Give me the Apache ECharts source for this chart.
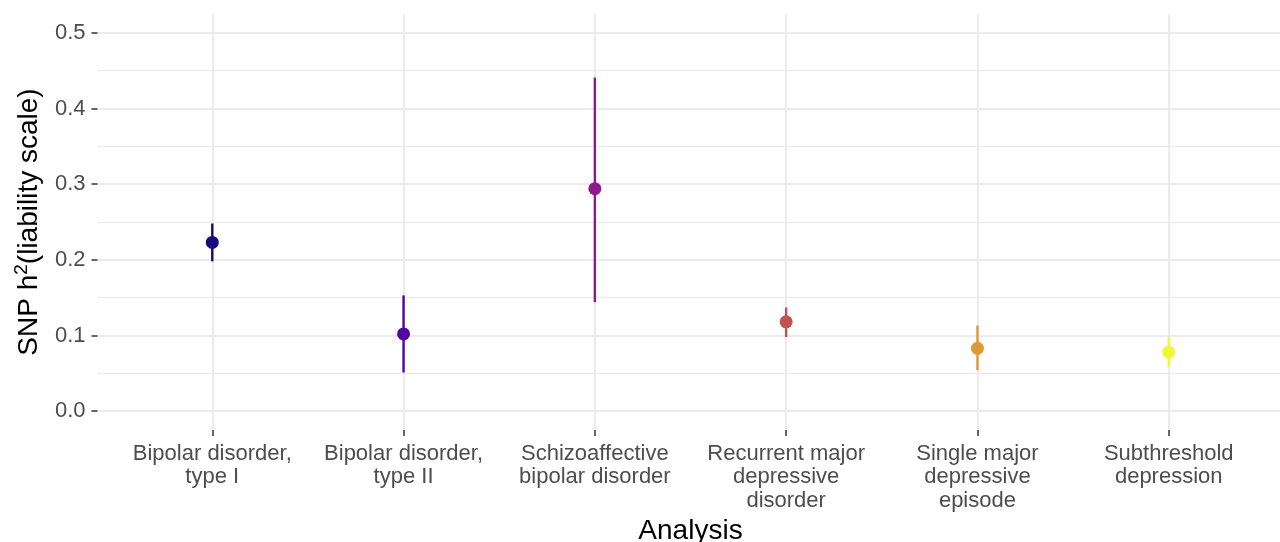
<!DOCTYPE html>
<html><head><meta charset="utf-8">
<script src="https://cdn.jsdelivr.net/npm/echarts@6/dist/echarts.min.js"></script>
<style>html,body{margin:0;padding:0;background:#fff}#c{width:1280px;height:542px}</style>
</head><body><div id="c"></div>
<script>
const categories = [
  "Bipolar disorder,\ntype I",
  "Bipolar disorder,\ntype II",
  "Schizoaffective\nbipolar disorder",
  "Recurrent major\ndepressive\ndisorder",
  "Single major\ndepressive\nepisode",
  "Subthreshold\ndepression"
];
const estimates = [0.223, 0.102, 0.294, 0.118, 0.083, 0.078];
const lowerCI   = [0.198, 0.051, 0.144, 0.098, 0.054, 0.058];
const upperCI   = [0.248, 0.153, 0.441, 0.137, 0.113, 0.098];
const colors = ["#170a7e", "#5305a3", "#8c1a8e", "#c0524f", "#e09937", "#ecf934"];
const yTicks = [0, 0.1, 0.2, 0.3, 0.4, 0.5];
const yMinor = [0.05, 0.15, 0.25, 0.35, 0.45];
const xPositions = categories.map((c, i) => i + 1);

const chart = echarts.init(document.getElementById('c'), null, {renderer: 'canvas'});
const font = 'Liberation Sans, Arial, sans-serif';
const option = {
  animation: false,
  backgroundColor: '#fff',
  grid: {left: 97.5, right: -3.5, top: 14, bottom: 112, containLabel: false, outerBoundsMode: 'none'},
  xAxis: {
    type: 'value', min: 0.4, max: 6.6,
    name: 'Analysis', nameLocation: 'middle', nameGap: 83,
    nameTextStyle: {fontSize: 28, color: '#000', fontFamily: font},
    axisLine: {show: false, onZero: false},
    axisTick: {show: true, customValues: xPositions, length: 6, lineStyle: {color: '#333', width: 1.5}},
    axisLabel: {customValues: xPositions, formatter: v => categories[Math.round(v) - 1],
      fontSize: 22, color: '#4d4d4d', fontFamily: font, lineHeight: 23.5, margin: 12},
    splitLine: {show: true, lineStyle: {color: '#ebebeb', width: 2}}
  },
  yAxis: [{
    type: 'value', min: -0.025, max: 0.525,
    name: '{a|SNP h}{s|2}{a|(liability scale)}', nameLocation: 'middle', nameGap: 52, nameRotate: 90,
    nameTextStyle: {fontSize: 28, color: '#000', fontFamily: font,
      rich: {
        a: {fontSize: 28, lineHeight: 33, color: '#000', fontFamily: font},
        s: {fontSize: 19, lineHeight: 19, color: '#000', fontFamily: font, verticalAlign: 'top'}
      }},
    axisLine: {show: false, onZero: false},
    axisTick: {show: true, customValues: yTicks, length: 6, lineStyle: {color: '#333', width: 1.5}},
    axisLabel: {customValues: yTicks, formatter: v => v.toFixed(1), fontSize: 22, color: '#4d4d4d', fontFamily: font, margin: 12},
    splitLine: {show: true, lineStyle: {color: '#ebebeb', width: 2}}
  }, {
    type: 'value', min: -0.025, max: 0.525, position: 'left',
    axisLine: {show: false, onZero: false}, axisTick: {show: false, customValues: yMinor},
    axisLabel: {show: false, customValues: yMinor},
    splitLine: {show: true, lineStyle: {color: '#ececec', width: 1.3}}
  }],
  series: [{
    type: 'custom',
    renderItem: function (params, api) {
      const x = api.value(0);
      const p1 = api.coord([x, api.value(1)]);
      const p2 = api.coord([x, api.value(2)]);
      return {type: 'line', shape: {x1: p1[0], y1: p1[1], x2: p2[0], y2: p2[1]},
        style: {stroke: colors[params.dataIndex], lineWidth: 2.4}};
    },
    data: xPositions.map((x, i) => [x, lowerCI[i], upperCI[i]]),
    z: 3
  }, {
    type: 'scatter', symbolSize: 13,
    data: xPositions.map((x, i) => ({value: [x, estimates[i]], itemStyle: {color: colors[i], opacity: 1}})),
    z: 4
  }]
};
chart.setOption(option);
</script></body></html>
